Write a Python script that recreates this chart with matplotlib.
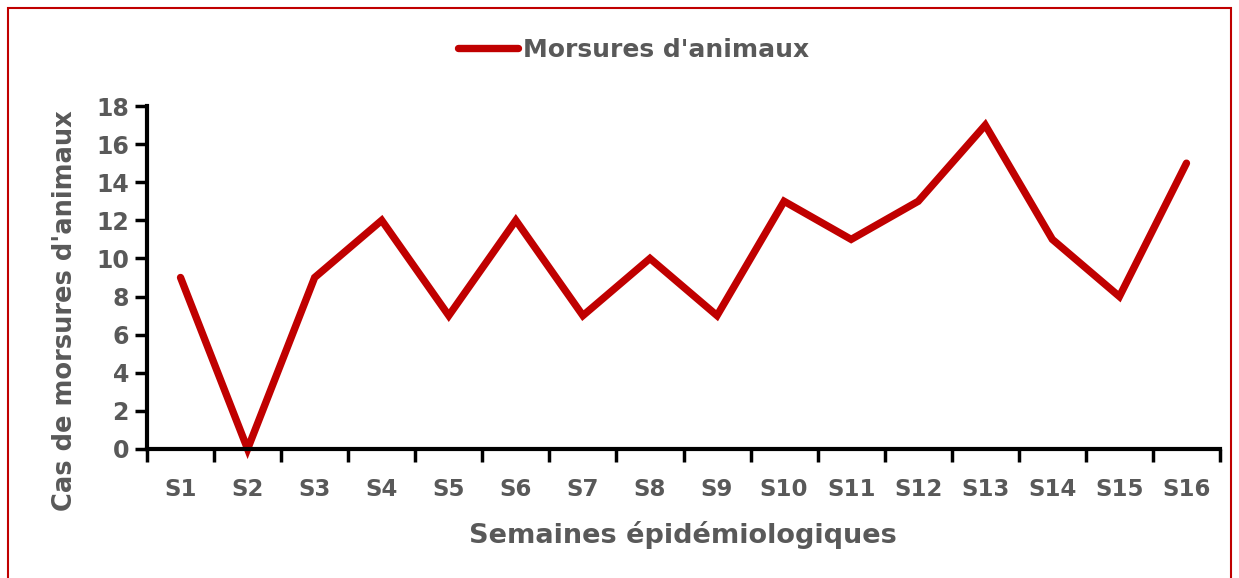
import matplotlib
matplotlib.use("Agg")
from matplotlib import pyplot as plt
from matplotlib.patches import Rectangle

semaines = ["S1", "S2", "S3", "S4", "S5", "S6", "S7", "S8",
            "S9", "S10", "S11", "S12", "S13", "S14", "S15", "S16"]
morsures = [9, 0, 9, 12, 7, 12, 7, 10, 7, 13, 11, 13, 17, 11, 8, 15]
y_ticks = [0, 2, 4, 6, 8, 10, 12, 14, 16, 18]

gris = "#595959"
rouge = "#C00000"
plt.rcParams['font.family'] = ['DejaVu Sans']
plt.rcParams['font.weight'] = 'bold'

W, H = 1239, 578
fig = plt.figure(figsize=(W / 100, H / 100), dpi=100)
ax = fig.add_axes([147 / W, 1 - 449 / H, (1220 - 147) / W, (449 - 106) / H])

x = list(range(len(semaines)))
ax.plot(x, morsures, color=rouge, lw=5.3, solid_capstyle="round",
        solid_joinstyle="miter", label="Morsures d'animaux", clip_on=False)

ax.set_xlim(-0.5, len(semaines) - 0.5)
ax.set_ylim(0, 18)
ax.set_yticks(y_ticks)
ax.set_xticks([i - 0.5 for i in range(len(semaines) + 1)], minor=False)
ax.set_xticklabels([])
ax.set_xticks(x, minor=True)
ax.set_xticklabels(semaines, minor=True)
ax.tick_params(axis="x", which="major", direction="out", length=9, width=2.5, color="black")
ax.tick_params(axis="x", which="minor", length=0, pad=21, labelsize=16.5, labelcolor=gris)
ax.tick_params(axis="y", direction="out", length=9, width=2.5, color="black",
               labelsize=17, labelcolor=gris, pad=4)

for s in ["top", "right"]:
    ax.spines[s].set_visible(False)
for s in ["left", "bottom"]:
    ax.spines[s].set_linewidth(3)
    ax.spines[s].set_color("black")

fig.text(683 / W, 1 - 535 / H, "Semaines épidémiologiques", ha="center", va="center",
         fontsize=19.5, color=gris, fontweight="bold")
fig.text(65 / W, 1 - 311 / H, "Cas de morsures d'animaux", ha="center", va="center",
         rotation=90, fontsize=18.5, color=gris, fontweight="bold")

leg = fig.legend(loc="center", bbox_to_anchor=(634 / W, 1 - 50 / H), frameon=False,
                 handlelength=2.4, handletextpad=0.2, fontsize=18)
for t in leg.get_texts():
    t.set_color(gris)

fig.patches.append(Rectangle((8 / W, -0.1), (1231 - 8) / W, 1.1 - 8 / H,
                             transform=fig.transFigure, fill=False,
                             edgecolor=rouge, lw=1.5))

fig.savefig("out.png", dpi=100)
